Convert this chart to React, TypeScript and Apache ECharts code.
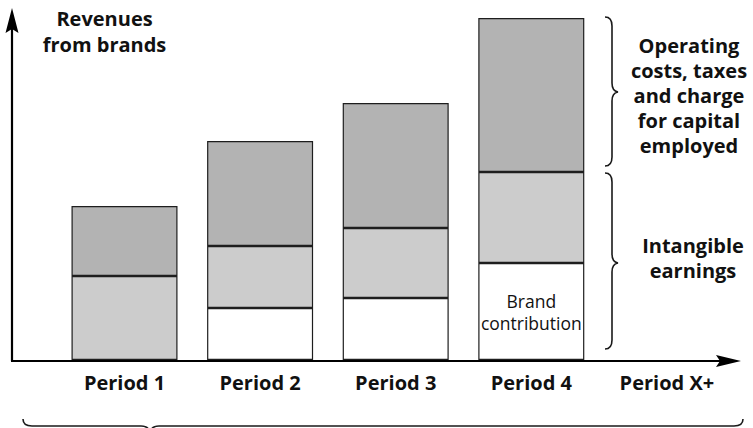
import React, { useEffect, useRef } from 'react';
import * as echarts from 'echarts';

const categories = ['Period 1', 'Period 2', 'Period 3', 'Period 4', 'Period X+'];
const brandContribution: (number | null)[] = [null, 52, 62, 97, null];
const intangibleEarnings: (number | null)[] = [84, 62, 70, 91, null];
const operatingCosts: (number | null)[] = [70, 105, 125, 154, null];
const brandLabelIndex = 3;

const FONT = '"Open Sans", "DejaVu Sans", sans-serif';

const braceTopD = 'M605,17 Q612,17 612,26 L612,83 Q612,91 618,92 Q612,93 612,101 L612,157 Q612,166 605,166';
const braceMidD = 'M605,173 Q612,173 612,182 L612,254 Q612,262 618,263 Q612,264 612,272 L612,340 Q612,349 605,349';
const braceBottomD = 'M23,419 Q23,426 32,426 L141,426 Q149,426 150,433 Q151,426 159,426 L734,426 Q743,426 743,419';

let registered = false;
function registerShapes() {
  if (registered) return;
  echarts.graphic.registerShape('braceTop', echarts.graphic.extendPath(braceTopD, {}));
  echarts.graphic.registerShape('braceMid', echarts.graphic.extendPath(braceMidD, {}));
  echarts.graphic.registerShape('braceBottom', echarts.graphic.extendPath(braceBottomD, {}));
  registered = true;
}

export default function App() {
  const ref = useRef<HTMLDivElement>(null);
  useEffect(() => {
    document.body.style.margin = '0';
    registerShapes();
    const chart = echarts.init(ref.current!, null, { renderer: 'svg' });
    const border = { borderColor: '#1e1e1e', borderWidth: 1.2 };
    const braceStyle = { stroke: '#1a1a1a', fill: 'none', lineWidth: 1.6 };
    const boldText = {
      fontFamily: FONT,
      fontWeight: 'bold',
      fontSize: 20,
      fill: '#111',
      align: 'center',
      verticalAlign: 'middle',
    };
    chart.setOption({
      animation: false,
      backgroundColor: '#ffffff',
      grid: { left: 56.7, right: 18.3, top: 10, bottom: 68 },
      xAxis: {
        type: 'category',
        data: categories,
        axisLine: { show: false },
        axisTick: { show: false },
        axisLabel: {
          margin: 12,
          fontFamily: FONT,
          fontWeight: 'bold',
          fontSize: 20,
          color: '#111',
        },
      },
      yAxis: { type: 'value', min: 0, max: 350, show: false, splitLine: { show: false } },
      series: [
        {
          type: 'bar',
          stack: 'total',
          barWidth: 106,
          itemStyle: { color: '#ffffff', ...border },
          data: brandContribution.map((v, i) =>
            i === brandLabelIndex
              ? {
                  value: v,
                  label: {
                    show: true,
                    position: 'inside',
                    formatter: 'Brand\ncontribution',
                    fontFamily: FONT,
                    fontSize: 17.5,
                    lineHeight: 22,
                    color: '#111',
                  },
                }
              : v
          ),
        },
        {
          type: 'bar',
          stack: 'total',
          barWidth: 106,
          itemStyle: { color: '#cccccc', ...border },
          data: intangibleEarnings,
        },
        {
          type: 'bar',
          stack: 'total',
          barWidth: 106,
          itemStyle: { color: '#b3b3b3', ...border },
          data: operatingCosts,
        },
      ],
      graphic: [
        { type: 'line', shape: { x1: 12, y1: 361, x2: 12, y2: 28 }, style: { stroke: '#000', lineWidth: 2.2 } },
        { type: 'polygon', shape: { points: [[12, 8], [5.5, 33], [12, 29], [18.5, 33]] }, style: { fill: '#000' } },
        { type: 'line', shape: { x1: 11, y1: 361, x2: 722, y2: 361 }, style: { stroke: '#000', lineWidth: 2.2 } },
        { type: 'polygon', shape: { points: [[741, 361], [716, 355], [720, 361], [716, 367]] }, style: { fill: '#000' } },
        { type: 'braceTop', x: 0, y: 0, style: braceStyle },
        { type: 'braceMid', x: 0, y: 0, style: braceStyle },
        { type: 'braceBottom', x: 0, y: 0, style: braceStyle },
        {
          type: 'text',
          x: 104.5,
          y: 31,
          style: { ...boldText, text: 'Revenues\nfrom brands', lineHeight: 26 },
        },
        {
          type: 'text',
          x: 689,
          y: 95.5,
          style: { ...boldText, text: 'Operating\ncosts, taxes\nand charge\nfor capital\nemployed', lineHeight: 25.2 },
        },
        {
          type: 'text',
          x: 693,
          y: 257.5,
          style: { ...boldText, text: 'Intangible\nearnings', lineHeight: 25 },
        },
      ],
    });
    return () => chart.dispose();
  }, []);
  return <div ref={ref} style={{ width: 753, height: 428 }} />;
}
